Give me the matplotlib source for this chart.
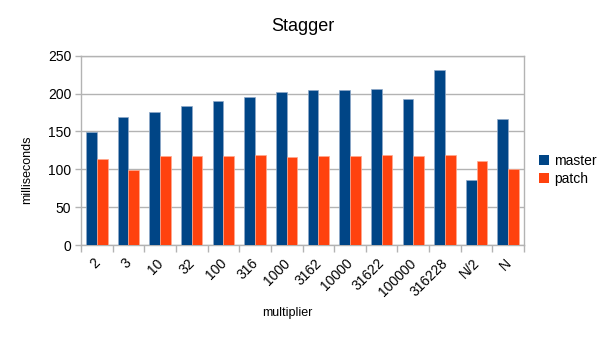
import matplotlib
matplotlib.use("Agg")
import matplotlib.pyplot as plt
import numpy as np
from matplotlib.patches import Patch

plt.rcParams['font.family'] = ['Liberation Sans', 'DejaVu Sans']

categories = ["2", "3", "10", "32", "100", "316", "1000", "3162", "10000",
              "31622", "100000", "316228", "N/2", "N"]
master = [149, 169.5, 175.5, 184, 190, 196, 202, 204.5, 205, 206, 193, 231, 86, 167]
patch = [113.5, 99.5, 117, 117.5, 117, 119, 116, 118, 117.5, 119.5, 117.5, 119, 111, 100.5]

c_master = "#004586"
c_patch = "#ff420e"
grid_c = "#b3b3b3"

fig = plt.figure(figsize=(6.05, 3.4), dpi=100)
ax = fig.add_axes([0.1339, 0.2794, 0.7322, 0.5568])

x = np.arange(len(categories))
w = 0.338
ax.bar(x - w / 2, master, width=w, color=c_master, edgecolor="#8fa9c8", linewidth=0.5, zorder=3)
ax.bar(x + w / 2, patch, width=w, color=c_patch, edgecolor="#ffa98f", linewidth=0.5, zorder=3)

ax.set_xlim(-0.5, len(categories) - 0.5)
ax.set_ylim(0, 250)
ax.set_yticks(np.arange(0, 251, 50))
ax.yaxis.grid(True, color=grid_c, linewidth=1, zorder=0)
ax.set_axisbelow(True)

# rotated labels sit slightly left of each group centre
ax.set_xticks(x - 0.13)
ax.set_xticklabels(categories, rotation=45, ha="right", rotation_mode="anchor", fontsize=10)
ax.set_xticks(np.arange(-0.5, len(categories), 1), minor=True)
ax.tick_params(axis="x", which="major", length=0, pad=8)
ax.tick_params(axis="x", which="minor", length=5, color=grid_c, width=1)
ax.tick_params(axis="y", length=4, color=grid_c, width=1, labelsize=10, pad=3)

for s in ax.spines.values():
    s.set_color(grid_c)
    s.set_linewidth(1)

ax.set_ylabel("milliseconds", fontsize=9, va="center")
ax.yaxis.set_label_coords(-0.122, 0.396)
ax.set_xlabel("multiplier", fontsize=9, va="center")
ax.xaxis.set_label_coords(0.466, -0.359)
fig.text(0.5, 1 - 26.5 / 340, "Stagger", ha="center", va="center", fontsize=13)

handles = [Patch(facecolor=c_master, label="master"), Patch(facecolor=c_patch, label="patch")]
fig.legend(handles=handles, loc="center left", bbox_to_anchor=(0.87, 0.5), frameon=False,
           fontsize=10, handlelength=0.7, handleheight=0.7, handletextpad=0.4, labelspacing=0.3)

fig.savefig("out.png", dpi=100)
